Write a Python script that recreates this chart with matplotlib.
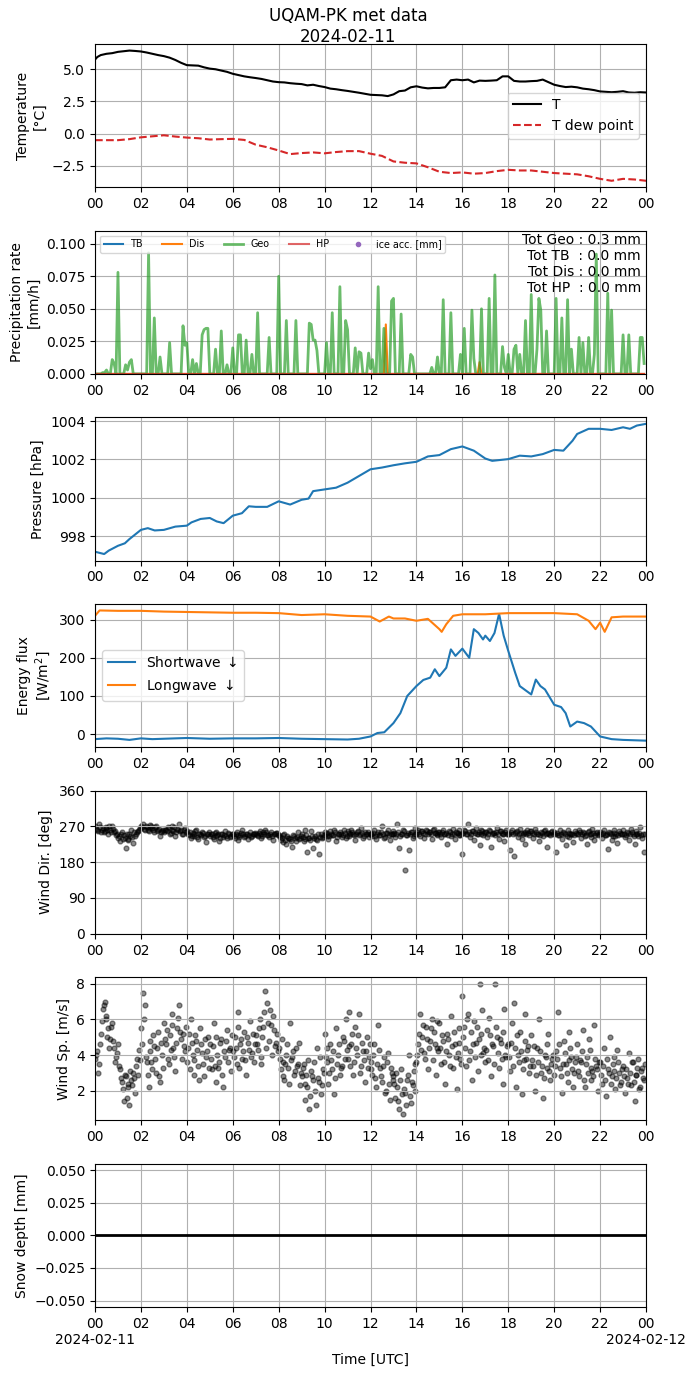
import datetime as dt
import numpy as np
import matplotlib
matplotlib.use("Agg")
import matplotlib.pyplot as plt
import matplotlib.dates as mdates
from matplotlib.ticker import FuncFormatter

BASE = dt.datetime(2024, 2, 11)

# ---------------- data ----------------
T_hours = [0, 0.1, 0.25, 0.5, 0.75, 1.0, 1.25, 1.5, 1.75, 2.0, 2.25, 2.5, 2.75, 3.0, 3.25, 3.5, 3.75,
           4.0, 4.25, 4.5, 4.75, 5.0, 5.25, 5.5, 5.75, 6.0, 6.25, 6.5, 6.75, 7.0, 7.25, 7.5, 7.75,
           8.0, 8.25, 8.5, 8.75, 9.0, 9.25, 9.5, 9.75, 10.0, 10.25, 10.5, 10.75, 11.0, 11.25, 11.5, 11.75,
           12.0, 12.25, 12.5, 12.75, 13.0, 13.25, 13.5, 13.75, 14.0, 14.25, 14.5, 14.75, 15.0, 15.25, 15.5, 15.75,
           16.0, 16.25, 16.5, 16.75, 17.0, 17.25, 17.5, 17.75, 18.0, 18.25, 18.5, 18.75, 19.0, 19.25, 19.5, 19.75,
           20.0, 20.25, 20.5, 20.75, 21.0, 21.25, 21.5, 21.75, 22.0, 22.25, 22.5, 22.75, 23.0, 23.25, 23.5, 23.75, 24.0]
T_values = [5.75, 5.95, 6.1, 6.2, 6.25, 6.35, 6.4, 6.45, 6.42, 6.38, 6.3, 6.2, 6.1, 6.02, 5.9, 5.72, 5.5,
            5.32, 5.3, 5.28, 5.15, 5.05, 5.0, 4.9, 4.8, 4.65, 4.55, 4.45, 4.38, 4.32, 4.25, 4.15, 4.05,
            4.0, 3.98, 3.92, 3.88, 3.85, 3.75, 3.8, 3.7, 3.62, 3.5, 3.45, 3.38, 3.32, 3.25, 3.18, 3.1,
            3.02, 3.0, 2.98, 2.92, 3.05, 3.3, 3.35, 3.6, 3.68, 3.58, 3.52, 3.55, 3.55, 3.6, 4.15, 4.2,
            4.15, 4.2, 3.98, 4.12, 4.1, 4.12, 4.15, 4.45, 4.45, 4.1, 4.05, 4.05, 4.08, 4.1, 4.2, 4.0,
            3.8, 3.7, 3.62, 3.65, 3.6, 3.5, 3.45, 3.38, 3.28, 3.25, 3.22, 3.25, 3.3, 3.2, 3.18, 3.22, 3.2]

Td_hours = [0, 0.5, 1, 1.5, 2, 2.5, 3, 3.5, 4, 4.5, 5, 5.5, 6, 6.5, 7, 7.5, 8, 8.5, 9, 9.5, 10, 10.5,
            11, 11.5, 12, 12.5, 13, 13.5, 14, 14.5, 15, 15.5, 16, 16.5, 17, 17.5, 18, 18.5, 19, 19.5,
            20, 20.5, 21, 21.5, 22, 22.5, 23, 23.5, 24]
Td_values = [-0.5, -0.5, -0.5, -0.42, -0.28, -0.2, -0.12, -0.22, -0.3, -0.35, -0.45, -0.42, -0.4, -0.48,
             -0.85, -1.05, -1.3, -1.58, -1.5, -1.45, -1.52, -1.42, -1.35, -1.35, -1.55, -1.72, -2.15, -2.25,
             -2.3, -2.6, -2.95, -3.05, -3.0, -3.1, -3.05, -2.9, -2.8, -2.85, -2.85, -2.95, -3.05, -3.1,
             -3.15, -3.3, -3.5, -3.65, -3.5, -3.55, -3.65]

# precipitation rates every 5 min [mm/h]
geo_rate = [
    0, 0, 0, 0, 0.001, 0.001, 0.003, 0, 0, 0.011, 0.008, 0,
    0.078, 0, 0, 0, 0.007, 0.003, 0.009, 0.011, 0, 0, 0, 0,
    0, 0, 0, 0, 0.093, 0, 0, 0.043, 0, 0, 0.013, 0,
    0, 0, 0, 0.024, 0, 0, 0, 0, 0, 0, 0.037, 0.022,
    0.024, 0, 0, 0.011, 0, 0.008, 0, 0, 0.030, 0.034, 0.035, 0.035,
    0, 0, 0, 0.019, 0, 0, 0.033, 0, 0, 0.007, 0, 0,
    0.020, 0, 0, 0.030, 0.030, 0, 0, 0.026, 0, 0, 0.015, 0,
    0, 0.047, 0, 0, 0, 0, 0, 0.028, 0, 0, 0, 0,
    0.075, 0, 0, 0, 0.041, 0, 0, 0, 0, 0.041, 0, 0,
    0, 0, 0, 0, 0.039, 0.038, 0.026, 0.026, 0.018, 0, 0, 0,
    0, 0.024, 0, 0, 0.047, 0, 0, 0, 0.067, 0, 0, 0.041,
    0.034, 0, 0, 0, 0.020, 0, 0.017, 0.016, 0, 0, 0, 0.016,
    0.004, 0.011, 0, 0, 0.067, 0, 0, 0.035, 0, 0, 0, 0.056,
    0.058, 0, 0, 0, 0.046, 0, 0, 0, 0, 0.015, 0.013, 0,
    0, 0, 0, 0, 0, 0, 0, 0, 0.005, 0, 0, 0.013,
    0, 0, 0.057, 0, 0, 0, 0.047, 0, 0, 0, 0, 0.015,
    0, 0.035, 0, 0, 0, 0.049, 0.012, 0, 0, 0, 0.050, 0,
    0, 0, 0.058, 0, 0, 0.076, 0, 0, 0, 0.021, 0.005, 0,
    0.015, 0, 0, 0.019, 0.022, 0, 0.015, 0, 0, 0.041, 0, 0,
    0.061, 0, 0, 0.019, 0.058, 0.049, 0, 0, 0.033, 0, 0, 0,
    0, 0.058, 0, 0, 0.043, 0, 0, 0.057, 0, 0.019, 0, 0,
    0, 0.028, 0, 0.024, 0, 0, 0.028, 0, 0, 0.015, 0.092, 0,
    0, 0, 0, 0, 0.062, 0, 0.049, 0, 0, 0, 0, 0,
    0.030, 0, 0, 0.030, 0, 0, 0, 0, 0, 0.028, 0.028, 0.008,
]
dis_spike_index = [152, 201]
dis_spike_value = [0.038, 0.009]
precip_totals = "Tot Geo : 0.3 mm\nTot TB  : 0.0 mm\nTot Dis : 0.0 mm\nTot HP  : 0.0 mm"

P_hours = [0, 0.4, 0.6, 1, 1.3, 1.5, 2, 2.3, 2.6, 3, 3.5, 4, 4.2, 4.6, 5, 5.3, 5.6, 6, 6.4, 6.7, 7, 7.5,
           8, 8.5, 9, 9.3, 9.5, 10, 10.5, 11, 11.5, 12, 12.5, 13, 13.5, 14, 14.5, 15, 15.5, 16, 16.5, 17,
           17.3, 18, 18.5, 19, 19.5, 20, 20.4, 20.8, 21, 21.5, 22, 22.5, 23, 23.3, 23.6, 24]
P_values = [997.19, 997.07, 997.25, 997.5, 997.63, 997.85, 998.33, 998.42, 998.3, 998.33, 998.5, 998.55,
            998.72, 998.9, 998.95, 998.77, 998.68, 999.07, 999.2, 999.56, 999.53, 999.53, 999.82, 999.65,
            999.9, 999.96, 1000.35, 1000.44, 1000.53, 1000.79, 1001.14, 1001.49, 1001.58, 1001.7, 1001.8,
            1001.88, 1002.16, 1002.23, 1002.54, 1002.68, 1002.46, 1002.05, 1001.93, 1002.02, 1002.2,
            1002.16, 1002.28, 1002.5, 1002.46, 1002.98, 1003.33, 1003.6, 1003.6, 1003.54, 1003.68,
            1003.6, 1003.77, 1003.86]

SW_hours = [0, 0.5, 1, 1.5, 2, 2.5, 3, 4, 5, 6, 7, 8, 9, 10, 11, 11.5, 12, 12.3, 12.6, 13, 13.3, 13.6,
            14, 14.3, 14.6, 14.8, 15, 15.3, 15.5, 15.7, 16, 16.3, 16.5, 16.7, 16.9, 17, 17.2, 17.4, 17.6,
            17.8, 18, 18.3, 18.5, 19, 19.2, 19.4, 19.6, 20, 20.3, 20.5, 20.7, 21, 21.3, 21.6, 21.8, 22,
            22.5, 23, 24]
SW_values = [-13, -11, -12, -15, -11, -13, -12, -10, -12, -11, -11, -10, -12, -13, -14, -12, -6, 3, 5,
             29, 55, 100, 126, 142, 148, 170, 152, 174, 222, 205, 224, 200, 275, 265, 248, 258, 244, 265,
             315, 258, 218, 161, 126, 104, 143, 126, 117, 77, 71, 55, 20, 33, 29, 20, 7, -6, -13, -15, -17]

LW_hours = [0, 0.2, 1, 2, 3, 4, 5, 6, 7, 8, 9, 10, 11, 12, 12.4, 12.8, 13, 13.5, 14, 14.5, 15, 15.1,
            15.3, 15.6, 16, 17, 18, 19, 20, 21, 21.5, 21.8, 22, 22.2, 22.5, 23, 24]
LW_values = [310, 324, 323, 323, 321, 320, 319, 318, 318, 317, 312, 314, 310, 308, 295, 308, 303, 303,
             297, 302, 275, 268, 288, 310, 314, 314, 317, 317, 317, 314, 297, 275, 292, 268, 306, 308, 308]

# wind, two interleaved samplings every 5 min (offset 2.5 min)
wind_dir_a = [
    270, 262, 275, 255, 265, 258, 268, 250, 262, 272, 256, 248,
    240, 232, 255, 248, 215, 238, 250, 260, 228, 246, 256, 262,
    270, 276, 262, 268, 258, 274, 266, 255, 270, 262, 245, 258,
    255, 262, 268, 250, 272, 258, 246, 264, 276, 260, 252, 266,
    258, 248, 240, 254, 245, 262, 238, 250, 256, 243, 230, 252,
    245, 252, 238, 256, 248, 232, 250, 244, 258, 240, 252, 246,
    250, 242, 255, 236, 248, 260, 244, 252, 238, 256, 246, 250,
    252, 246, 258, 240, 255, 262, 248, 244, 256, 236, 250, 254,
    248, 236, 230, 252, 225, 242, 238, 218, 246, 232, 255, 240,
    250, 232, 262, 205, 240, 258, 215, 245, 236, 200, 252, 244,
    255, 246, 238, 258, 248, 262, 232, 250, 256, 244, 260, 240,
    258, 246, 262, 250, 236, 255, 248, 266, 240, 256, 252, 244,
    252, 246, 260, 238, 256, 248, 270, 242, 254, 262, 236, 250,
    258, 244, 275, 215, 252, 262, 160, 248, 210, 256, 242, 266,
    252, 260, 246, 258, 240, 262, 250, 256, 238, 264, 254, 248,
    256, 244, 262, 250, 225, 258, 246, 264, 238, 254, 260, 248,
    200, 262, 250, 276, 244, 258, 236, 266, 252, 222, 260, 248,
    256, 244, 262, 218, 254, 248, 266, 238, 258, 250, 232, 262,
    250, 210, 262, 195, 256, 244, 264, 238, 254, 226, 260, 248,
    258, 242, 264, 250, 232, 256, 246, 262, 218, 254, 248, 258,
    256, 205, 248, 262, 238, 254, 222, 260, 244, 252, 230, 258,
    250, 262, 240, 256, 246, 226, 258, 244, 264, 236, 254, 248,
    256, 242, 262, 248, 214, 254, 236, 260, 246, 228, 258, 250,
    262, 244, 256, 236, 264, 250, 226, 258, 246, 268, 240, 205,
]
wind_dir_b = [
    264, 258, 268, 260, 255, 266, 262, 270, 256, 264, 259, 252,
    245, 250, 238, 242, 252, 236, 246, 244, 255, 250, 258, 266,
    268, 264, 272, 260, 266, 270, 262, 268, 258, 264, 256, 262,
    262, 258, 266, 254, 260, 268, 256, 262, 258, 252, 260, 255,
    252, 256, 246, 250, 258, 244, 252, 248, 254, 246, 250, 256,
    250, 244, 254, 246, 250, 242, 252, 248, 246, 254, 244, 250,
    246, 252, 248, 244, 254, 250, 246, 252, 248, 244, 250, 254,
    248, 254, 250, 246, 252, 256, 248, 252, 246, 250, 254, 248,
    244, 240, 248, 236, 246, 242, 234, 248, 240, 244, 238, 246,
    244, 238, 248, 240, 236, 246, 242, 238, 250, 244, 240, 248,
    250, 254, 246, 252, 248, 256, 244, 252, 250, 248, 254, 246,
    254, 250, 256, 248, 252, 258, 250, 254, 246, 252, 256, 250,
    250, 254, 246, 252, 248, 256, 250, 244, 254, 248, 252, 250,
    254, 250, 256, 246, 252, 258, 248, 254, 250, 256, 246, 252,
    256, 252, 258, 254, 250, 258, 256, 252, 260, 254, 250, 256,
    252, 256, 250, 254, 248, 256, 252, 250, 256, 254, 248, 252,
    254, 258, 250, 256, 252, 258, 254, 250, 256, 252, 258, 254,
    256, 252, 258, 250, 254, 256, 252, 258, 254, 250, 256, 252,
    252, 256, 250, 254, 258, 250, 254, 252, 256, 250, 254, 258,
    254, 250, 256, 252, 248, 254, 258, 250, 254, 252, 256, 250,
    250, 254, 248, 252, 256, 250, 246, 254, 250, 252, 248, 254,
    252, 256, 250, 254, 248, 256, 252, 250, 254, 248, 256, 252,
    250, 254, 248, 252, 256, 250, 246, 254, 250, 248, 254, 250,
    252, 248, 254, 250, 256, 246, 252, 250, 254, 248, 252, 250,
]
wind_speed_a = [
    3.8, 4.2, 3.5, 5.2, 6.6, 7.0, 6.2, 5.5, 4.9, 5.8, 4.4, 3.9,
    4.6, 3.2, 2.5, 1.4, 2.8, 2.2, 1.2, 2.6, 3.0, 1.9, 3.8, 4.3,
    5.5, 7.5, 6.8, 3.6, 2.2, 4.8, 3.2, 4.5, 3.0, 5.3, 2.5, 4.0,
    5.8, 4.6, 3.8, 5.1, 6.3, 4.4, 3.1, 5.5, 6.8, 4.9, 5.2, 4.2,
    3.6, 5.2, 6.0, 4.0, 2.9, 4.8, 3.4, 5.5, 4.1, 2.8, 3.9, 5.0,
    4.6, 3.2, 5.8, 2.5, 4.0, 3.6, 4.9, 2.2, 3.9, 5.4, 4.3, 3.1,
    4.2, 5.0, 3.5, 6.4, 4.6, 3.8, 5.3, 2.9, 4.7, 5.9, 4.1, 3.6,
    5.1, 4.3, 6.0, 3.5, 5.6, 7.6, 6.9, 4.8, 5.7, 6.2, 4.5, 5.2,
    4.4, 3.2, 3.6, 2.6, 4.0, 3.3, 5.8, 3.9, 2.9, 4.4, 3.5, 2.3,
    2.8, 3.5, 1.5, 2.2, 1.0, 3.1, 2.6, 2.0, 4.4, 2.5, 1.8, 3.2,
    5.2, 3.6, 2.4, 4.6, 3.2, 1.8, 5.5, 4.0, 2.9, 3.4, 4.8, 6.0,
    3.8, 6.4, 4.6, 2.9, 5.6, 4.0, 6.3, 3.4, 4.2, 2.5, 5.0, 3.9,
    3.6, 2.9, 4.6, 2.2, 5.7, 3.3, 2.5, 3.9, 2.0, 4.1, 1.5, 3.0,
    2.8, 1.6, 2.2, 1.0, 3.2, 0.7, 1.9, 2.6, 4.0, 1.3, 2.3, 3.5,
    3.6, 4.6, 6.3, 5.0, 4.1, 5.6, 3.2, 4.8, 6.0, 5.3, 2.9, 4.4,
    5.8, 3.5, 4.8, 2.4, 5.2, 4.0, 6.2, 3.3, 4.6, 2.1, 5.5, 3.8,
    7.3, 5.6, 3.4, 6.3, 4.2, 2.6, 5.9, 4.7, 3.1, 8.0, 5.2, 4.1,
    3.6, 5.4, 6.1, 2.8, 4.5, 8.0, 5.0, 3.3, 4.7, 2.4, 6.6, 3.9,
    4.6, 3.1, 5.8, 6.9, 2.2, 4.0, 5.3, 1.8, 3.7, 6.3, 4.3, 3.0,
    5.1, 3.4, 2.0, 4.4, 6.0, 3.0, 1.6, 4.0, 3.3, 5.2, 2.6, 3.8,
    2.9, 4.2, 6.4, 3.3, 1.9, 4.8, 3.5, 2.5, 5.3, 3.9, 2.2, 3.6,
    4.6, 2.8, 3.6, 5.4, 2.2, 3.9, 4.9, 2.6, 3.1, 5.7, 3.4, 2.0,
    3.6, 2.4, 4.4, 1.7, 3.2, 5.0, 2.8, 3.9, 2.1, 4.3, 3.0, 2.5,
    3.4, 1.9, 2.7, 4.1, 2.3, 3.6, 1.4, 2.9, 3.8, 2.2, 3.3, 2.6,
]
wind_speed_b = [
    4.0, 3.0, 4.6, 5.9, 6.8, 6.0, 5.0, 4.4, 5.6, 4.8, 3.6, 4.1,
    3.4, 2.7, 2.1, 2.9, 1.6, 2.4, 3.1, 2.3, 2.7, 3.4, 2.9, 3.7,
    4.6, 6.0, 3.9, 2.9, 4.2, 3.6, 5.1, 3.8, 4.4, 2.8, 4.7, 3.3,
    4.9, 5.4, 3.5, 4.3, 5.7, 3.9, 4.7, 6.1, 5.3, 3.8, 4.5, 5.6,
    4.4, 3.2, 4.7, 3.7, 5.1, 4.3, 2.6, 4.6, 3.5, 4.9, 4.2, 3.3,
    3.8, 4.5, 3.4, 5.0, 3.3, 4.7, 2.9, 4.2, 4.8, 3.6, 4.4, 5.1,
    3.9, 4.4, 5.6, 3.3, 4.9, 4.2, 3.7, 5.0, 4.3, 3.9, 5.2, 4.6,
    4.6, 5.5, 3.9, 5.0, 6.4, 4.4, 5.8, 6.5, 4.0, 5.4, 4.7, 4.2,
    3.8, 4.9, 2.8, 3.5, 4.6, 2.4, 3.7, 4.2, 3.1, 3.4, 4.7, 3.0,
    3.3, 2.4, 2.9, 3.7, 1.7, 2.8, 3.6, 1.2, 2.7, 3.9, 2.3, 3.0,
    3.9, 4.4, 3.0, 3.7, 4.2, 2.7, 3.5, 4.6, 3.3, 5.0, 3.8, 4.3,
    4.5, 3.4, 5.2, 3.6, 4.4, 5.1, 3.0, 4.7, 3.7, 4.2, 3.3, 4.6,
    3.2, 4.0, 2.7, 3.5, 4.3, 2.8, 3.4, 1.9, 3.6, 2.4, 3.3, 2.6,
    2.4, 3.0, 1.4, 2.6, 1.8, 2.1, 1.2, 2.9, 1.7, 2.5, 3.1, 2.0,
    4.0, 5.2, 4.3, 5.7, 3.8, 4.9, 4.4, 5.5, 3.7, 4.6, 5.9, 4.2,
    4.4, 5.1, 3.6, 4.2, 4.9, 3.4, 4.5, 5.3, 3.9, 4.1, 4.7, 3.5,
    5.0, 4.4, 6.0, 3.7, 5.3, 4.6, 3.9, 5.6, 4.9, 4.0, 6.5, 4.4,
    4.3, 3.7, 5.1, 4.6, 3.5, 5.6, 4.1, 4.9, 3.8, 5.3, 4.0, 4.5,
    3.9, 4.7, 3.4, 4.4, 5.1, 3.6, 4.2, 3.2, 4.8, 3.8, 4.5, 3.4,
    3.7, 4.5, 2.9, 3.6, 4.2, 3.4, 2.7, 3.9, 4.6, 3.1, 3.5, 4.0,
    3.4, 3.8, 4.6, 2.8, 3.5, 4.1, 3.0, 3.7, 4.4, 3.2, 3.0, 3.9,
    3.1, 3.7, 4.2, 2.6, 3.5, 3.0, 4.3, 3.3, 2.8, 3.8, 3.2, 3.6,
    2.9, 3.4, 2.6, 3.8, 3.0, 2.4, 3.5, 3.1, 2.7, 3.6, 2.3, 3.2,
    2.8, 3.2, 2.4, 3.0, 3.6, 2.5, 2.9, 3.3, 2.1, 3.1, 2.7, 3.5,
]
snow_hours = [0, 24]
snow_values = [0.0, 0.0]


def to_time(hours):
    return [BASE + dt.timedelta(hours=float(h)) for h in hours]


t5 = to_time([i * 5 / 60 for i in range(288)])
t5b = to_time([(i * 5 + 2.5) / 60 for i in range(288)])
dis_rate = [0.0] * 288
for k, v in zip(dis_spike_index, dis_spike_value):
    dis_rate[k] = v
zeros = [0.0] * 288

# ---------------- figure ----------------
fig, axes = plt.subplots(7, 1, figsize=(6.96, 13.77), dpi=100)
fig.subplots_adjust(left=0.1365, right=0.9282, top=0.968, bottom=0.0508, hspace=0.303)
fig.suptitle("UQAM-PK met data\n2024-02-11", fontsize=12, y=0.995, va="top")

ax = axes[0]
ax.plot(to_time(T_hours), T_values, color="black", lw=1.5, label="T")
ax.plot(to_time(Td_hours), Td_values, color="tab:red", ls="--", lw=1.5, label="T dew point")
ax.set_ylabel("Temperature\n[°C]")
ax.legend(loc="center right")

ax = axes[1]
ax.plot(t5, zeros, color="tab:blue", label="TB")
ax.plot(t5, dis_rate, color="tab:orange", label="Dis")
ax.plot(t5, geo_rate, color="tab:green", alpha=0.7, lw=2, label="Geo")
ax.plot(t5, zeros, color="tab:red", alpha=0.7, label="HP")
ax.plot([], [], "o", color="tab:purple", ms=3, label="ice acc. [mm]")
ax.set_ylim(0, 0.11)
ax.set_ylabel("Precipitation rate\n[mm/h]")
ax.legend(loc="upper left", ncol=5, fontsize="x-small")
ax.text(0.991, 0.985, precip_totals, transform=ax.transAxes, ha="right", va="top", fontsize=10)

ax = axes[2]
ax.plot(to_time(P_hours), P_values, color="tab:blue")
ax.set_ylabel("Pressure [hPa]")

ax = axes[3]
ax.plot(to_time(SW_hours), SW_values, color="tab:blue", label=r"Shortwave $\downarrow$")
ax.plot(to_time(LW_hours), LW_values, color="tab:orange", label=r"Longwave $\downarrow$")
ax.set_ylabel("Energy flux\n[W/m$^2$]")
ax.legend(loc="center left")

ax = axes[4]
ax.scatter(t5, wind_dir_a, s=12, color="black", alpha=0.45)
ax.scatter(t5b, wind_dir_b, s=12, color="black", alpha=0.45)
ax.set_ylim(0, 360)
ax.set_yticks([0, 90, 180, 270, 360])
ax.set_ylabel("Wind Dir. [deg]")

ax = axes[5]
ax.scatter(t5, wind_speed_a, s=12, color="black", alpha=0.45)
ax.scatter(t5b, wind_speed_b, s=12, color="black", alpha=0.45)
ax.set_ylabel("Wind Sp. [m/s]")

ax = axes[6]
ax.plot(to_time(snow_hours), snow_values, color="black", lw=2)
ax.set_ylabel("Snow depth [mm]")
ax.set_xlabel("Time [UTC]")


def fmt_hour(x, pos):
    return mdates.num2date(x).strftime("%H")


def fmt_bottom(x, pos):
    d = mdates.num2date(x)
    if d.hour == 0:
        return d.strftime("%H\n%Y-%m-%d")
    return d.strftime("%H")


for i, ax in enumerate(axes):
    ax.set_xlim(BASE, BASE + dt.timedelta(days=1))
    ax.xaxis.set_major_locator(mdates.HourLocator(byhour=range(0, 24, 2)))
    ax.xaxis.set_major_formatter(FuncFormatter(fmt_bottom if i == 6 else fmt_hour))
    ax.grid(True)

fig.savefig("out.png", dpi=100)
